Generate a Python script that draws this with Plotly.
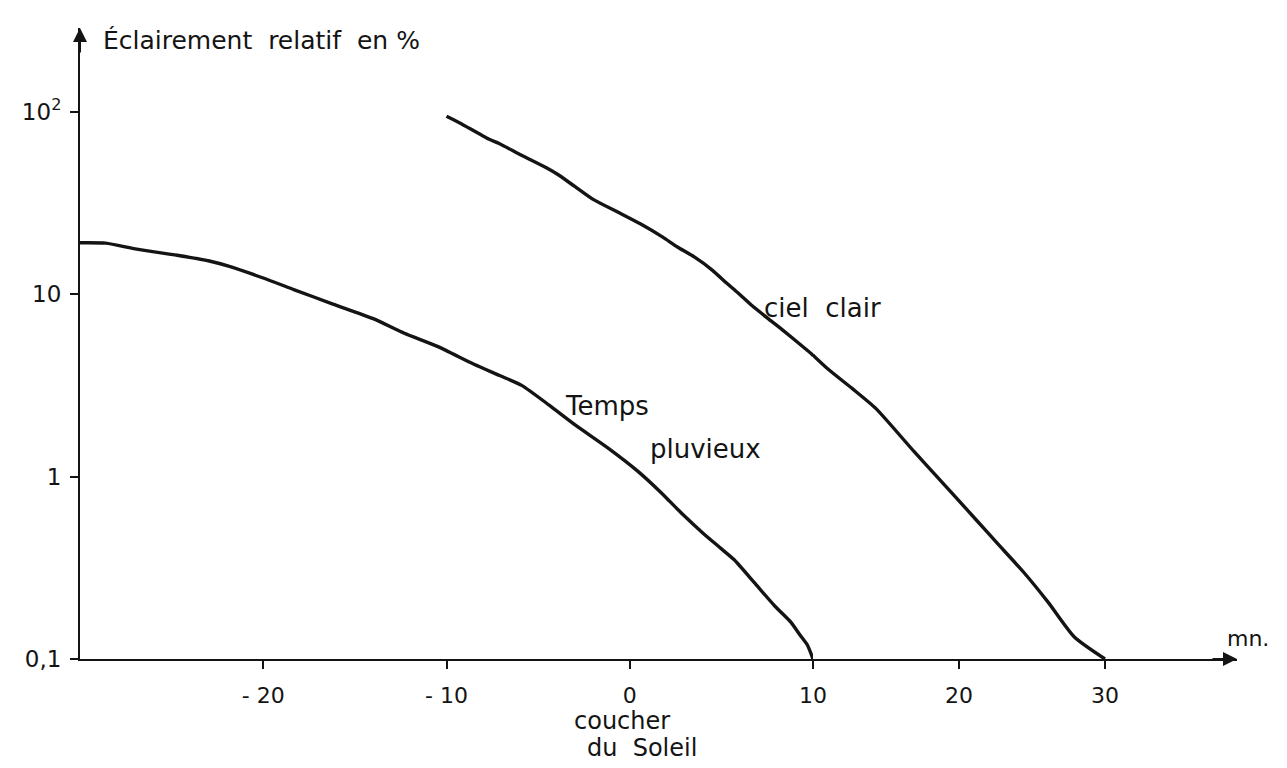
import plotly.graph_objects as go

# Relative illuminance (%) versus minutes from sunset
minutes_clear = [-10, -9.3, -7.7, -7.1, -5.9, -4.5, -3.9, -3.0, -2.0, -0.6, 0.6, 1.8,
                 2.6, 3.5, 4.5, 5.3, 5.9, 6.7, 7.6, 8.4, 9.6, 10, 11.0, 12.7, 14.3,
                 16.9, 18.3, 19.8, 21.2, 22.6, 24.4, 26.1, 27.9, 30]
illum_clear = [94.9, 87.5, 71.1, 67.0, 57.9, 49.2, 45.3, 39.1, 33.2, 28.1, 24.3, 20.6,
               18.2, 16.1, 13.6, 11.5, 10.2, 8.63, 7.30, 6.31, 5.02, 4.64, 3.91, 3.04, 2.37,
               1.38, 1.04, 0.767, 0.577, 0.433, 0.301, 0.205, 0.132, 0.1]

minutes_rain = [-30, -28.6, -26.9, -24.7, -23.0, -21.8, -20.0, -18.3, -16.2, -14.0,
                -12.3, -10.5, -8.5, -7.1, -5.9, -4.4, -3.0, -1.2, 0.4, 1.7, 2.9, 4.0,
                4.9, 5.7, 6.8, 7.9, 8.8, 9.3, 9.7, 10]
illum_rain = [19.2, 19.1, 17.7, 16.4, 15.3, 14.2, 12.3, 10.6, 8.85, 7.36,
              6.12, 5.19, 4.14, 3.59, 3.17, 2.47, 1.93, 1.44, 1.08, 0.82, 0.62, 0.49,
              0.41, 0.35, 0.262, 0.196, 0.159, 0.135, 0.119, 0.1]

x_ticks_before = [-20, -10, 0]
x_text_before = ["- 20", "- 10", "0"]
x_ticks_after = [10, 20, 30]
x_text_after = ["10", "20", "30"]
y_ticks = [0.1, 1, 10, 100]
y_tick_text = ["0,1", "1", "10", "10<sup>2</sup>"]

FONT = "DejaVu Sans"
INK = "#141414"

# Plot frame (pixels)
PLOT_L, PLOT_T, PLOT_W, PLOT_H = 80, 28, 1157, 631
SPLIT = (813 - PLOT_L) / PLOT_W      # the hand-drawn time axis is graduated more tightly after +10 mn
X2_END = 10 + (PLOT_L + PLOT_W - 813) / 14.6
Y_TOP = -1 + PLOT_H / 182.3


def px_x(px):
    return (px - PLOT_L) / PLOT_W


def px_y(py):
    return (PLOT_T + PLOT_H - py) / PLOT_H


LINE_W = 3.4
line_style = dict(color=INK, width=LINE_W, shape="spline", smoothing=0.6)

clear_a = [(m, v) for m, v in zip(minutes_clear, illum_clear) if m <= 10]
clear_b = [(m, v) for m, v in zip(minutes_clear, illum_clear) if m >= 10]
joint = [(m, v) for m, v in zip(minutes_clear, illum_clear) if m == 10]

fig = go.Figure()
fig.add_trace(go.Scatter(x=[p[0] for p in clear_a], y=[p[1] for p in clear_a],
                         xaxis="x", yaxis="y", mode="lines", line=line_style,
                         cliponaxis=False, showlegend=False, hoverinfo="skip"))
fig.add_trace(go.Scatter(x=[p[0] for p in clear_b], y=[p[1] for p in clear_b],
                         xaxis="x2", yaxis="y", mode="lines", line=line_style,
                         cliponaxis=False, showlegend=False, hoverinfo="skip"))
# round joint where the clear-sky curve passes from one graduation to the other
fig.add_trace(go.Scatter(x=[p[0] for p in joint], y=[p[1] for p in joint],
                         xaxis="x", yaxis="y", mode="markers",
                         marker=dict(color=INK, size=LINE_W, line=dict(width=0)),
                         cliponaxis=False, showlegend=False, hoverinfo="skip"))
fig.add_trace(go.Scatter(x=minutes_rain, y=illum_rain, xaxis="x", yaxis="y",
                         mode="lines", line=line_style,
                         cliponaxis=False, showlegend=False, hoverinfo="skip"))

xaxis_common = dict(showgrid=False, zeroline=False, showline=True, linecolor=INK,
                    linewidth=2, ticks="outside", ticklen=8, tickwidth=2,
                    tickcolor=INK, ticklabelstandoff=8,
                    tickfont=dict(size=22, family=FONT, color=INK))

fig.update_layout(
    width=1287, height=768,
    margin=dict(l=PLOT_L, r=1287 - PLOT_L - PLOT_W, t=PLOT_T, b=768 - PLOT_T - PLOT_H),
    paper_bgcolor="white", plot_bgcolor="white",
    font=dict(family=FONT, color=INK, size=20),
    xaxis=dict(domain=[0, SPLIT], range=[-30, 10], anchor="y",
               tickvals=x_ticks_before, ticktext=x_text_before, **xaxis_common),
    xaxis2=dict(domain=[SPLIT, 1], range=[10, X2_END], anchor="y",
                tickvals=x_ticks_after, ticktext=x_text_after, **xaxis_common),
    yaxis=dict(type="log", range=[-1, Y_TOP], anchor="x", showgrid=False,
               zeroline=False, showline=True, linecolor=INK, linewidth=2,
               tickvals=y_ticks, ticktext=y_tick_text,
               ticks="outside", ticklen=8, tickwidth=2, tickcolor=INK,
               ticklabelstandoff=4,
               tickfont=dict(size=23, family=FONT, color=INK)),
)

# Arrowheads at the ends of both axes
fig.add_annotation(x=1, y=0, xref="paper", yref="paper", ax=-26, ay=0,
                   showarrow=True, arrowhead=2, arrowsize=1.4, arrowwidth=2,
                   arrowcolor=INK, text="")
fig.add_annotation(x=0, y=1, xref="paper", yref="paper", ax=0, ay=26,
                   showarrow=True, arrowhead=2, arrowsize=1.4, arrowwidth=2,
                   arrowcolor=INK, text="")

labels = [
    (101, 41, "\u00c9clairement  relatif  en %", 25),
    (762, 308, "ciel  clair", 26),
    (563, 406, "Temps", 26),
    (648, 449, "pluvieux", 26),
    (572, 721, "coucher", 24),
    (585, 748, "du  Soleil", 24),
    (1225, 638, "mn.", 22),
]
for left, cy, text, size in labels:
    fig.add_annotation(x=px_x(left), y=px_y(cy), xref="paper", yref="paper",
                       text=text, showarrow=False, xanchor="left", yanchor="middle",
                       font=dict(size=size, family=FONT, color=INK))

fig.write_html("out.html")
